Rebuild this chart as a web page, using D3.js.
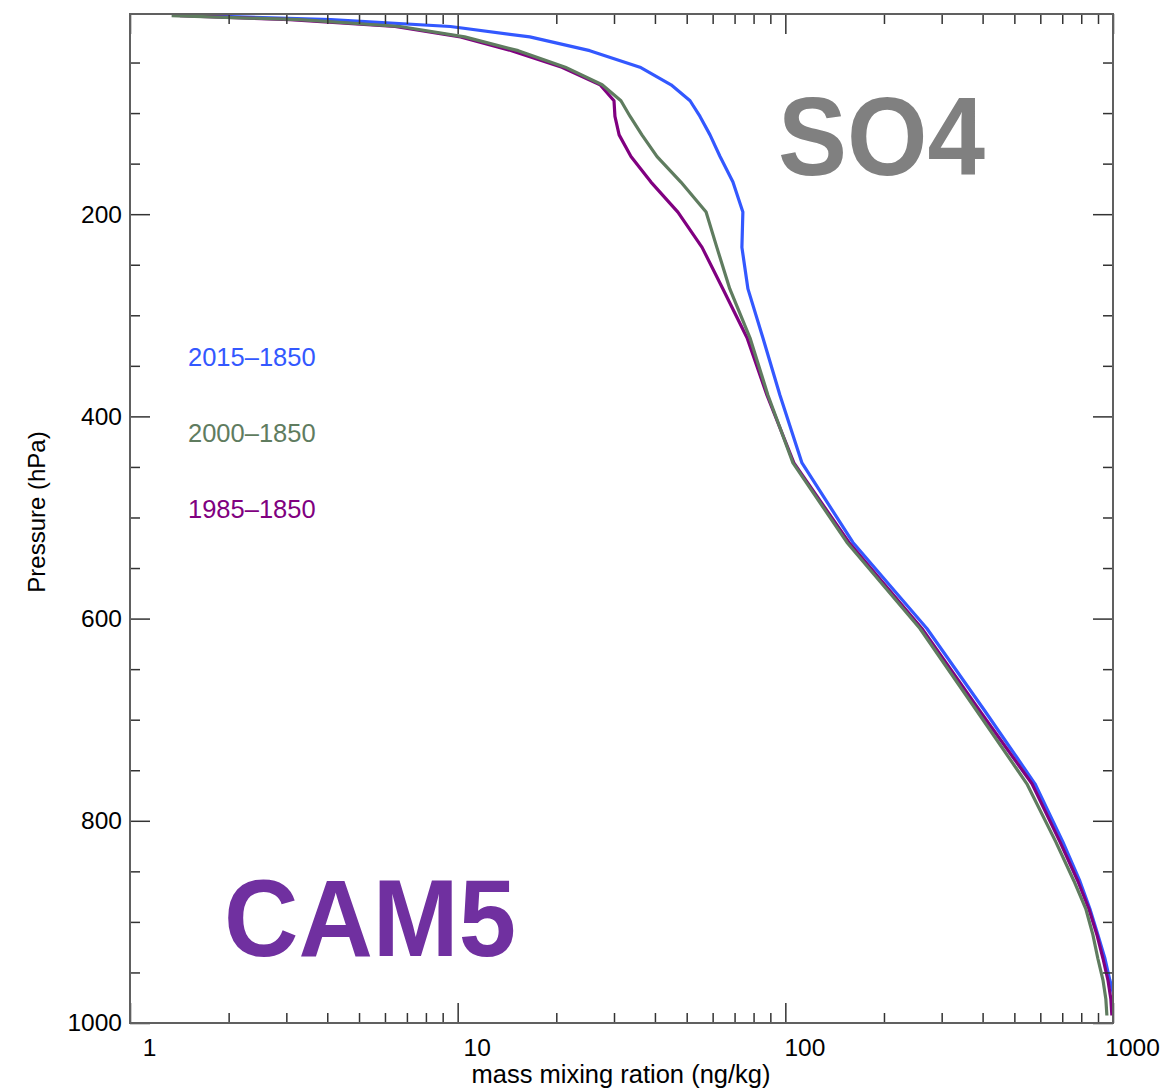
<!DOCTYPE html>
<html>
<head>
<meta charset="utf-8">
<script src="https://cdn.jsdelivr.net/npm/d3@7"></script>
<style>
  html, body { margin: 0; padding: 0; background: #fff; }
  svg { display: block; font-family: "Liberation Sans", Arial, Helvetica, sans-serif; }
</style>
</head>
<body>
<svg id="chart" width="1164" height="1092"></svg>
<script>
// CAM5 model level mid-point pressures (hPa)
const pressure = [3.64, 7.59, 14.36, 24.61, 38.27, 54.60, 72.01, 87.82, 103.32, 121.55,
  142.99, 168.23, 197.91, 232.83, 273.91, 322.24, 379.10, 445.99, 524.69, 609.78,
  691.39, 763.40, 820.86, 859.53, 887.02, 912.64, 936.20, 957.49, 976.33, 992.56];

// SO4 mass mixing ratio differences (ng/kg)
const so4_2015 = [1.6, 4.1, 9.5, 16.6, 25.3, 36.0, 44.8, 51.2, 54.9, 58.9,
  63.2, 69.2, 74.2, 73.7, 76.9, 85.4, 96.3, 112.4, 160.8, 270.4,
  406.5, 578, 703, 792, 850, 899, 945, 978, 1013, 1028];
const so4_2000 = [1.34, 3.3, 6.67, 10.5, 15.3, 21.3, 27.6, 31.5, 33.6, 36.5,
  40.6, 48.0, 57.3, 61.8, 67.7, 78.0, 88.5, 105.5, 154.2, 257.5,
  384.3, 546, 669, 760, 826, 868, 899, 932, 951, 958];
const so4_1985 = [1.42, 3.08, 6.44, 10.2, 14.6, 20.8, 27.2, 30.0, 30.2, 31.1,
  33.8, 38.9, 47.0, 55.7, 64.5, 76.4, 87.9, 106.2, 156.4, 261.1,
  392.4, 566, 689, 781, 844, 893, 932, 965, 985, 992];

const seriesNames = ["2015\u20131850", "2000\u20131850", "1985\u20131850"];
const seriesColors = ["#3358ff", "#5f7c5f", "#800080"];
const seriesValues = [so4_2015, so4_2000, so4_1985];

const xMajor = [1, 10, 100, 1000];
const xMinor = [2,3,4,5,6,7,8,9,20,30,40,50,60,70,80,90,200,300,400,500,600,700,800,900];
const yMajor = [200, 400, 600, 800, 1000];
const yMinor = [50, 100, 150, 250, 300, 350, 450, 500, 550, 650, 700, 750, 850, 900, 950];

const xTitle = "mass mixing ration (ng/kg)";
const yTitle = "Pressure (hPa)";

const L = 130, R = 1113, T = 14, B = 1023;
const svg = d3.select("#chart");

const x = d3.scaleLog().domain([1, 1000]).range([L, R]);
const y = d3.scaleLinear().domain([2, 1000]).range([T, B]);

svg.append("defs").append("clipPath").attr("id", "plotclip")
  .append("rect").attr("x", L).attr("y", T).attr("width", R - L).attr("height", B - T);

// Lines (drawn: blue, purple, green)
const line = d3.line().x(d => x(d[0])).y(d => y(d[1]));
const order = [0, 2, 1];
const gLines = svg.append("g").attr("clip-path", "url(#plotclip)");
order.forEach(i => {
  const pts = seriesValues[i].map((v, k) => [v, pressure[k]]);
  gLines.append("path").datum(pts)
    .attr("d", line)
    .attr("fill", "none")
    .attr("stroke", seriesColors[i])
    .attr("stroke-width", 3.2)
    .attr("stroke-linejoin", "round");
});

// Axes
function styleAxis(g) {
  g.select(".domain").remove();
  g.selectAll("line").attr("stroke", "#333").attr("stroke-width", 1.5);
  g.selectAll("text").attr("fill", "#000").attr("font-size", 24.5)
    .attr("font-family", "'Liberation Sans', Arial, Helvetica, sans-serif");
}
svg.append("g").attr("transform", `translate(0,${B})`)
  .call(d3.axisBottom(x).tickValues(xMinor).tickSize(-10).tickFormat("")).call(styleAxis);
svg.append("g").attr("transform", `translate(0,${B})`)
  .call(d3.axisBottom(x).tickValues(xMajor).tickSize(-20).tickPadding(16).tickFormat(d3.format("d")))
  .call(styleAxis)
  .call(g => g.selectAll("text").attr("dx", 19));
svg.append("g").attr("transform", `translate(0,${T})`)
  .call(d3.axisTop(x).tickValues(xMinor).tickSize(-10).tickFormat("")).call(styleAxis);
svg.append("g").attr("transform", `translate(0,${T})`)
  .call(d3.axisTop(x).tickValues(xMajor).tickSize(-20).tickFormat("")).call(styleAxis);

svg.append("g").attr("transform", `translate(${L},0)`)
  .call(d3.axisLeft(y).tickValues(yMinor).tickSize(-10).tickFormat("")).call(styleAxis);
svg.append("g").attr("transform", `translate(${L},0)`)
  .call(d3.axisLeft(y).tickValues(yMajor).tickSize(-20).tickPadding(8).tickFormat(d3.format("d")))
  .call(styleAxis);
svg.append("g").attr("transform", `translate(${R},0)`)
  .call(d3.axisRight(y).tickValues(yMinor).tickSize(-10).tickFormat("")).call(styleAxis);
svg.append("g").attr("transform", `translate(${R},0)`)
  .call(d3.axisRight(y).tickValues(yMajor).tickSize(-20).tickFormat("")).call(styleAxis);

// Frame
svg.append("rect").attr("x", L).attr("y", T).attr("width", R - L).attr("height", B - T)
  .attr("fill", "none").attr("stroke", "#606060").attr("stroke-width", 2);

// Axis titles
svg.append("text").attr("x", 621).attr("y", 1083).attr("text-anchor", "middle")
  .attr("font-size", 25.5).attr("fill", "#000").text(xTitle);
svg.append("text").attr("transform", "translate(45,512) rotate(-90)")
  .attr("text-anchor", "middle").attr("font-size", 24).attr("fill", "#000").text(yTitle);

// Legend
seriesNames.forEach((name, i) => {
  svg.append("text").attr("x", 188).attr("y", 366 + i * 76)
    .attr("font-size", 25.5).attr("fill", seriesColors[i]).text(name);
});

// Big labels
svg.append("text").attr("x", 778).attr("y", 175)
  .attr("font-size", 111).attr("font-weight", "bold").attr("fill", "#808080")
  .attr("textLength", 207).attr("lengthAdjust", "spacingAndGlyphs").text("SO4");
svg.append("text").attr("x", 224).attr("y", 956)
  .attr("font-size", 109).attr("font-weight", "bold").attr("fill", "#7030a0")
  .attr("textLength", 292).attr("lengthAdjust", "spacingAndGlyphs").text("CAM5");
</script>
</body>
</html>
